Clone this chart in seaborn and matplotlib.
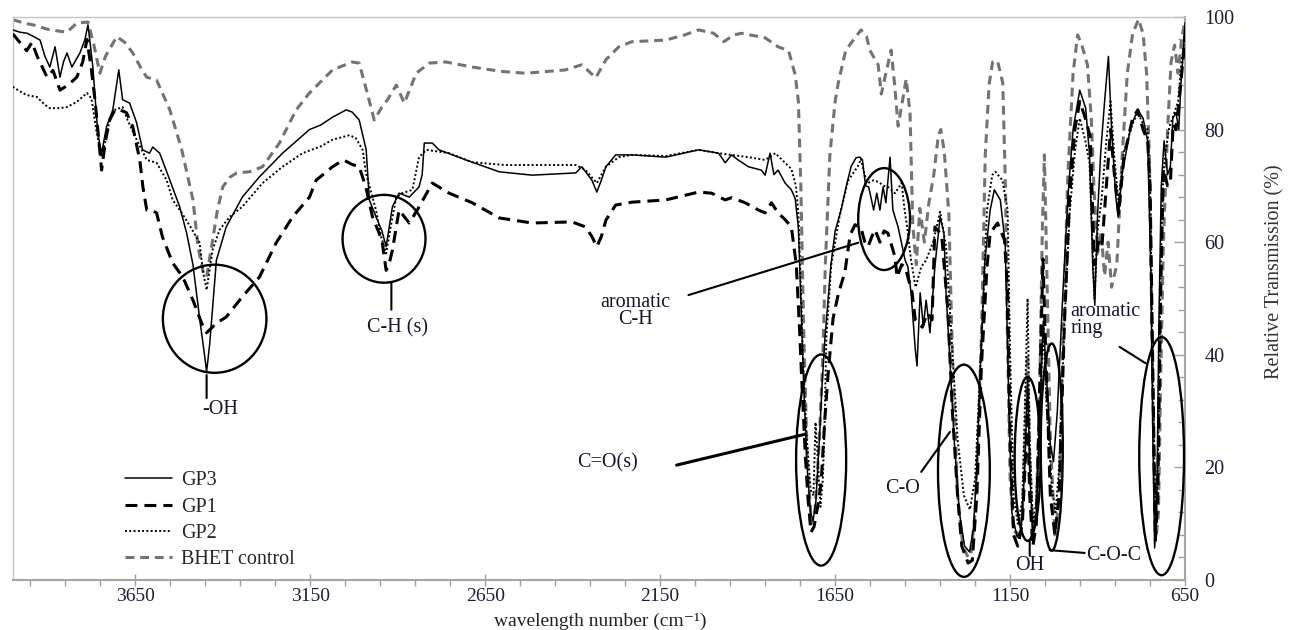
import numpy as np
import pandas as pd
import matplotlib
matplotlib.use("Agg")
import matplotlib.pyplot as plt
import seaborn as sns
from matplotlib.patches import Ellipse
from matplotlib.ticker import FixedLocator

# FTIR spectra: (wavenumber cm-1, relative transmission %)
gp3 = [(4000, 97.7), (3980, 97.3), (3959, 97.1), (3940, 96.5), (3922, 95.9), (3908, 93), (3894, 91.1),
       (3879, 94.7), (3865, 89.3), (3855, 92), (3845, 93.6), (3831, 91.1), (3808, 93.6), (3794, 95.9),
       (3785, 98.6), (3771, 91.1), (3757, 79.4), (3746, 75.8), (3732, 80.5), (3714, 83.5), (3697, 90.6),
       (3686, 85.3), (3666, 84.7), (3646, 81.2), (3629, 76.4), (3609, 75.8), (3600, 76.9), (3580, 75.8),
       (3551, 71), (3523, 66.3), (3503, 61.6), (3485, 56), (3465, 46), (3452, 40), (3446, 37), (3437, 42),
       (3418, 56.8), (3390, 62.7), (3344, 68), (3295, 71.6), (3229, 75.8), (3152, 80), (3120, 80.8),
       (3086, 82.2), (3047, 83.5), (3030, 83.1), (3010, 81.7), (2990, 76.4), (2981, 67.5), (2962, 64.5),
       (2945, 62), (2933, 59.2), (2915, 66.3), (2896, 68.7), (2867, 68), (2839, 69.8), (2830, 72),
       (2824, 77.6), (2801, 77.6), (2782, 76.4), (2705, 74.6), (2610, 72.5), (2516, 71.9), (2391, 72.3),
       (2374, 73.4), (2345, 71), (2331, 68.9), (2318, 71), (2305, 73.4), (2277, 75.5), (2231, 75.5),
       (2134, 75.1), (2040, 76.4), (1983, 75.8), (1964, 74.1), (1946, 75.5), (1927, 74.6), (1898, 73.4),
       (1861, 72.8), (1850, 71.9), (1836, 75.8), (1825, 72), (1813, 72.8), (1793, 70.5), (1775, 69.3),
       (1764, 67.7), (1755, 62.5), (1748, 50), (1740, 35), (1730, 20), (1720, 12), (1713, 10.5),
       (1705, 14), (1695, 25), (1687, 35), (1679, 43), (1662, 56), (1650, 62), (1633, 65.7), (1618, 70),
       (1604, 73.5), (1590, 75), (1579, 75.1), (1572, 74.6), (1563, 70), (1554, 69.8), (1540, 65.7),
       (1531, 68.7), (1522, 65.7), (1513, 69.8), (1505, 67), (1493, 75.1), (1485, 65.7), (1470, 62.7),
       (1450, 56.8), (1442, 55.6), (1433, 51), (1421, 41), (1416, 38), (1407, 51), (1398, 45),
       (1390, 49.7), (1379, 43.9), (1365, 55.6), (1350, 64.5), (1339, 61.6), (1333, 51), (1322, 39),
       (1310, 25), (1295, 12), (1280, 6), (1266, 5), (1255, 9), (1245, 20), (1235, 38), (1222, 56.8),
       (1207, 65.7), (1195, 69.3), (1178, 67.5), (1164, 59.8), (1155, 35), (1145, 12), (1130, 7.6),
       (1118, 9), (1108, 20), (1100, 36), (1093, 18), (1085, 8), (1075, 12), (1065, 30), (1055, 46),
       (1045, 35), (1035, 24), (1026, 21), (1015, 30), (1000, 50), (985, 68), (970, 80), (951, 87),
       (934, 83.8), (923, 75.5), (914, 56), (908, 48.8), (900, 65), (891, 76), (880, 85), (869, 93),
       (860, 80), (848, 68), (841, 64.5), (830, 72), (805, 80.6), (785, 83.5), (770, 82), (757, 78),
       (748, 55), (742, 25), (737, 5.7), (731, 12), (725, 45), (718, 70), (710, 78), (700, 72),
       (692, 73.4), (685, 82), (676, 83), (668, 80), (662, 88), (655, 94), (650, 99)]

gp1 = [(4000, 97), (3980, 95.5), (3960, 94), (3945, 95.5), (3930, 93), (3902, 89.3), (3885, 90.5),
       (3865, 87), (3840, 88), (3817, 89.3), (3800, 92), (3788, 96), (3776, 91), (3765, 85.3),
       (3746, 72.8), (3735, 78), (3723, 81.7), (3708, 83.5), (3694, 83.5), (3675, 83), (3657, 80.5),
       (3637, 74.6), (3628, 69.8), (3617, 65.7), (3603, 65.7), (3589, 65.2), (3572, 60.9), (3543, 56.3),
       (3514, 53.8), (3485, 49.7), (3460, 45.6), (3446, 43.9), (3418, 45.6), (3390, 46.7), (3344, 50.3),
       (3295, 53.8), (3247, 59.9), (3200, 64.5), (3152, 68), (3133, 71), (3086, 73.4), (3055, 74.6),
       (3030, 73.8), (3010, 73.4), (2991, 69.8), (2972, 64.5), (2953, 61.6), (2944, 59.9), (2933, 55),
       (2925, 56), (2915, 58.6), (2896, 65.7), (2867, 63.4), (2844, 65.7), (2801, 70.5), (2753, 68.7),
       (2687, 67), (2610, 64.3), (2516, 63.4), (2402, 63.6), (2363, 62.7), (2345, 61), (2331, 59.2),
       (2318, 61), (2305, 63.9), (2277, 66.6), (2231, 67.1), (2134, 67.5), (2040, 68.9), (2003, 68.7),
       (1964, 67.5), (1946, 67.9), (1907, 67), (1869, 65.7), (1850, 65.2), (1832, 67), (1813, 65.2),
       (1793, 64), (1775, 62.7), (1761, 56), (1752, 45), (1745, 35), (1735, 22), (1727, 14),
       (1719, 8.5), (1710, 9.5), (1700, 13), (1690, 17.2), (1680, 28), (1670, 36.6), (1656, 46.4),
       (1641, 50.8), (1622, 54.7), (1607, 61.3), (1593, 63.1), (1576, 62.5), (1565, 60), (1556, 59.2),
       (1545, 61), (1536, 62.2), (1522, 60), (1510, 62), (1499, 61.6), (1479, 57.4), (1473, 53.8),
       (1460, 56), (1450, 55.6), (1430, 51), (1421, 46.2), (1401, 44.9), (1387, 47.4), (1373, 46.2),
       (1365, 62.7), (1355, 62), (1345, 60.9), (1328, 48), (1315, 30), (1300, 15), (1288, 6),
       (1270, 3), (1258, 3.5), (1245, 15), (1232, 38), (1216, 55.6), (1207, 61.6), (1186, 63.4),
       (1166, 60.4), (1157, 51), (1150, 25), (1140, 8), (1128, 6), (1115, 10), (1106, 22), (1100, 30),
       (1094, 15), (1085, 6), (1075, 10), (1065, 35), (1056, 57), (1048, 40), (1035, 15), (1022, 8),
       (1010, 15), (995, 45), (980, 68), (965, 80), (951, 85), (935, 82), (921, 78.7), (909, 56),
       (897, 60), (888, 59), (875, 70), (863, 80), (852, 72), (840, 65), (825, 75), (800, 82),
       (785, 83.5), (770, 80), (757, 78), (750, 70), (743, 40), (735, 7), (728, 15), (720, 50),
       (712, 73), (700, 70), (692, 70.5), (684, 81), (676, 80), (665, 86.5), (655, 93), (650, 97)]

gp2 = [(4000, 87.6), (3980, 86.8), (3959, 86.1), (3931, 85.8), (3908, 84.4), (3894, 83.8), (3865, 83.8),
       (3845, 84), (3817, 84.9), (3788, 86.5), (3775, 85.5), (3760, 79.4), (3746, 75.1), (3735, 78),
       (3723, 81.7), (3708, 83.5), (3686, 84), (3672, 81.7), (3646, 78.2), (3617, 74.6), (3589, 74.1),
       (3560, 71), (3543, 67.5), (3517, 65.2), (3490, 62.5), (3466, 59.9), (3457, 55), (3446, 51.5),
       (3429, 58.6), (3409, 62.2), (3380, 64.5), (3344, 66.3), (3286, 70.5), (3229, 73.4), (3172, 75.8),
       (3120, 77), (3086, 78.2), (3038, 79), (3020, 78.5), (3000, 76.4), (2991, 72.3), (2975, 68.7),
       (2962, 65.7), (2947, 60.9), (2933, 58), (2918, 63.4), (2904, 68), (2887, 68.7), (2858, 69.3),
       (2839, 75.1), (2818, 76.4), (2753, 75.8), (2687, 74.2), (2593, 73.7), (2470, 73.7), (2390, 73.7),
       (2363, 72.8), (2331, 70.5), (2305, 73.4), (2268, 75.1), (2231, 75.5), (2134, 75.3), (2040, 76.4),
       (1983, 75.8), (1946, 75.5), (1898, 75.1), (1850, 74.6), (1821, 75.8), (1793, 74.1), (1775, 73),
       (1762, 70), (1755, 65), (1750, 56), (1742, 40), (1732, 26), (1720, 16), (1712, 15), (1706, 28),
       (1700, 22), (1692, 13), (1685, 18), (1680, 28), (1675, 43.2), (1661, 56), (1636, 65),
       (1613, 70.9), (1585, 73.5), (1576, 74.8), (1566, 72), (1556, 70.5), (1540, 71), (1527, 70.7),
       (1510, 70), (1499, 69.8), (1479, 68.7), (1460, 70.5), (1452, 66), (1445, 63), (1433, 56.8),
       (1420, 52), (1404, 55.6), (1390, 56.8), (1370, 60), (1350, 65.4), (1333, 59.2), (1319, 45),
       (1300, 25), (1282, 15), (1265, 12.5), (1250, 18), (1235, 38), (1216, 65.7), (1201, 71.9),
       (1192, 72.5), (1172, 71), (1157, 65.7), (1150, 40), (1140, 15), (1128, 10), (1115, 14),
       (1106, 35), (1100, 50), (1094, 25), (1085, 10), (1075, 14), (1065, 30), (1055, 45), (1045, 30),
       (1030, 16), (1020, 12), (1010, 20), (995, 45), (980, 65), (965, 76), (951, 82), (935, 78),
       (923, 74), (909, 50), (900, 62), (888, 68), (875, 78), (863, 85), (852, 75), (840, 67),
       (825, 76), (800, 81), (785, 83), (770, 81), (757, 80), (750, 70), (743, 40), (735, 11),
       (728, 20), (720, 55), (712, 72), (705, 76.4), (695, 80.5), (685, 82.2), (670, 85), (662, 91),
       (650, 97)]

bhet = [(4000, 99.5), (3960, 98.8), (3942, 98.6), (3900, 97.8), (3870, 97.5), (3845, 97.3), (3817, 98.9),
        (3785, 99.1), (3768, 95), (3751, 90), (3735, 93), (3703, 96.5), (3680, 95.5), (3657, 93.6),
        (3630, 90.5), (3617, 89.3), (3589, 88.8), (3551, 83.5), (3517, 76.4), (3485, 67.5), (3470, 59),
        (3455, 54.5), (3446, 53.8), (3430, 60), (3415, 65.7), (3400, 69.8), (3380, 71.5), (3360, 72.3),
        (3323, 72.5), (3286, 73.4), (3238, 77.6), (3190, 83.5), (3152, 86.5), (3086, 90.6), (3030, 92),
        (3010, 91.8), (2987, 86.5), (2967, 81.7), (2945, 84), (2929, 85.3), (2904, 87.9), (2881, 84.7),
        (2860, 88), (2847, 90), (2810, 91.8), (2762, 92), (2687, 91.1), (2600, 90.3), (2533, 90),
        (2420, 90.6), (2374, 91.5), (2334, 89.2), (2305, 92.4), (2268, 94.7), (2231, 95.6), (2134, 95.9),
        (2080, 96.8), (2040, 97.7), (1997, 97.1), (1968, 95.6), (1940, 96.8), (1918, 97.1), (1850, 96.3),
        (1813, 94.7), (1783, 94), (1764, 89.7), (1755, 85), (1748, 70), (1740, 45), (1730, 22),
        (1718, 10), (1708, 12), (1695, 25), (1685, 40), (1678, 56), (1665, 75.5), (1650, 85),
        (1641, 88.3), (1620, 94), (1604, 95.4), (1576, 97.7), (1560, 96.5), (1551, 94.1), (1527, 91.5),
        (1518, 86.3), (1505, 90), (1490, 94.1), (1480, 88), (1470, 80.6), (1455, 86), (1447, 89),
        (1436, 83), (1428, 63), (1418, 56), (1408, 66), (1395, 60), (1382, 67), (1368, 72), (1355, 79),
        (1348, 80), (1338, 76), (1325, 65), (1315, 40), (1300, 15), (1285, 6), (1270, 4), (1262, 4.5),
        (1250, 12), (1240, 28), (1232, 43), (1221, 75.5), (1210, 88), (1200, 92), (1186, 92.2),
        (1171, 88.3), (1163, 69), (1158, 45), (1150, 18), (1140, 9), (1128, 8), (1115, 12), (1106, 28),
        (1100, 40), (1094, 22), (1085, 9), (1075, 12), (1065, 35), (1058, 62), (1052, 75.5), (1045, 55),
        (1035, 25), (1022, 8), (1010, 14), (1000, 40), (985, 72), (970, 90), (957, 96.8), (945, 95),
        (929, 91.5), (918, 82), (910, 69), (900, 58), (890, 62), (880, 54), (870, 60), (860, 52),
        (845, 56), (830, 75), (815, 90), (800, 97), (783, 99.6), (770, 97), (760, 90), (752, 75),
        (745, 45), (738, 18), (732, 8), (726, 12), (720, 35), (712, 60), (700, 80), (690, 92),
        (680, 95), (670, 90), (660, 96), (650, 99.5)]

# annotation marks: (label, centre wn, centre T, width cm-1, height %)
ellipses = [("-OH", 3423, 46.4, 296, 19.2), ("C-H", 2939, 60.6, 237, 15.6),
            ("arC-H", 1510, 64.1, 148, 18.1), ("C=O", 1690, 21.3, 143, 37.5),
            ("C-O", 1282, 19.4, 148, 37.7), ("OH", 1100, 21.5, 74, 29.1),
            ("C-O-C", 1031, 23.6, 63, 36.8), ("ring", 717, 22.0, 128, 42.3)]

sns.set_theme(style="white")
plt.rcParams["font.family"] = ["Liberation Serif", "DejaVu Serif"]

fs = 14.5
fig = plt.figure(figsize=(12.99, 6.30), dpi=100)
ax = fig.add_axes([0.0098, 0.0794, 0.9025, 0.8937])

styles = [
    ("GP3", gp3, "black", 1.1, None, 4),
    ("GP1", gp1, "black", 2.2, (3.9, 2.3), 3),
    ("GP2", gp2, "black", 1.4, (1.0, 1.2), 3.5),
    ("BHET control", bhet, "#737373", 2.2, (2.9, 1.9), 2),
]
handles = []
for name, data, color, lw, dash, z in styles:
    df = pd.DataFrame(data, columns=["wn", "T"])
    sns.lineplot(data=df, x="wn", y="T", sort=False, estimator=None, ax=ax,
                 color=color, linewidth=lw, label=name)
    line = ax.lines[-1]
    line.set_zorder(z)
    if dash is not None:
        line.set_dashes(dash)
    handles.append(line)

ax.set_xlim(4000, 650)
ax.set_ylim(0, 100)
ax.xaxis.set_major_locator(FixedLocator([3650, 3150, 2650, 2150, 1650, 1150, 650]))
ax.xaxis.set_minor_locator(FixedLocator(list(range(750, 4000, 100))))
ax.yaxis.set_major_locator(FixedLocator(list(range(0, 101, 20))))
ax.yaxis.set_minor_locator(FixedLocator(list(range(0, 101, 4))))

tick_col = "#a0a0a0"
lab_col = "#1a1f3a"
ax.tick_params(axis="x", which="major", bottom=True, direction="inout", length=8, width=1,
               color=tick_col, pad=2, labelsize=14, labelcolor=lab_col)
ax.tick_params(axis="x", which="minor", bottom=True, direction="out", length=4, width=1, color=tick_col)
ax.yaxis.tick_right()
ax.tick_params(axis="y", which="major", right=True, left=False, direction="in", length=8, width=1,
               color=tick_col, pad=14, labelsize=fs, labelcolor=lab_col)
ax.tick_params(axis="y", which="minor", right=True, left=False, direction="in", length=5, width=1,
               color=tick_col)

for side in ["top", "left"]:
    ax.spines[side].set_color("#c4c4c4")
    ax.spines[side].set_linewidth(1.0)
for side in ["bottom", "right"]:
    ax.spines[side].set_color("#a6a6a6")
    ax.spines[side].set_linewidth(1.5)

ax.set_xlabel("wavelength number (cm\u207b\u00b9)", fontsize=14, color="#222222", va="bottom")
ax.xaxis.set_label_coords(0.501, -0.088)
ax.set_ylabel("Relative Transmission (%)", fontsize=fs, color="#333333")
ax.yaxis.set_label_position("right")
ax.yaxis.set_label_coords(1.068, 0.547)

# ellipses around the assigned bands
for _, cx, cy, w, h in ellipses:
    ax.add_patch(Ellipse((cx, cy), w, h, fill=False, ec="black", lw=1.7, zorder=6, clip_on=False))

txt_col = "#141432"
ann = dict(arrowprops=dict(arrowstyle="-", color="black", lw=1.5, shrinkA=0, shrinkB=0))
ax.annotate("", xy=(3446, 36.4), xytext=(3446, 32.3), **ann)
ax.text(3406, 30.2, "-OH", fontsize=fs, ha="center", va="center", color=txt_col)
ax.annotate("", xy=(2918, 52.8), xytext=(2918, 48.0), **ann)
ax.text(2901, 44.8, "C-H (s)", fontsize=fs, ha="center", va="center", color=txt_col)
ax.annotate("", xy=(1584, 59.9), xytext=(2069, 50.6), **ann)
ax.text(2220, 47.8, "aromatic\nC-H", fontsize=fs, ha="center", va="center",
        multialignment="center", linespacing=0.9, color=txt_col)
ax.annotate("", xy=(1735, 25.9), xytext=(2103, 20.4), arrowprops=dict(arrowstyle="-", color="black",
            lw=2.2, shrinkA=0, shrinkB=0))
ax.text(2300, 20.8, "C=O(s)", fontsize=fs, ha="center", va="center", color=txt_col)
ax.annotate("", xy=(1322, 26.3), xytext=(1404, 19.2), **ann)
ax.text(1456, 16.3, "C-O", fontsize=fs, ha="center", va="center", color=txt_col)
ax.annotate("", xy=(1094, 7.1), xytext=(1094, 4.3), **ann)
ax.text(1094, 2.6, "OH", fontsize=fs, ha="center", va="center", color=txt_col)
ax.annotate("", xy=(1037, 5.3), xytext=(937, 4.8), **ann)
ax.text(934, 4.4, "C-O-C", fontsize=fs, ha="left", va="center", color=txt_col)
ax.annotate("", xy=(763, 38.5), xytext=(837, 41.4), **ann)
ax.text(977, 46.2, "aromatic\nring", fontsize=fs, ha="left", va="center",
        multialignment="left", linespacing=0.9, color=txt_col)

ax.legend(handles, [s[0] for s in styles], loc="upper left", bbox_to_anchor=(0.0958, 0.193),
          frameon=False, fontsize=fs, handlelength=2.35, handletextpad=0.45,
          labelspacing=0.36, borderpad=0, borderaxespad=0)

fig.savefig("out.png", dpi=100)
